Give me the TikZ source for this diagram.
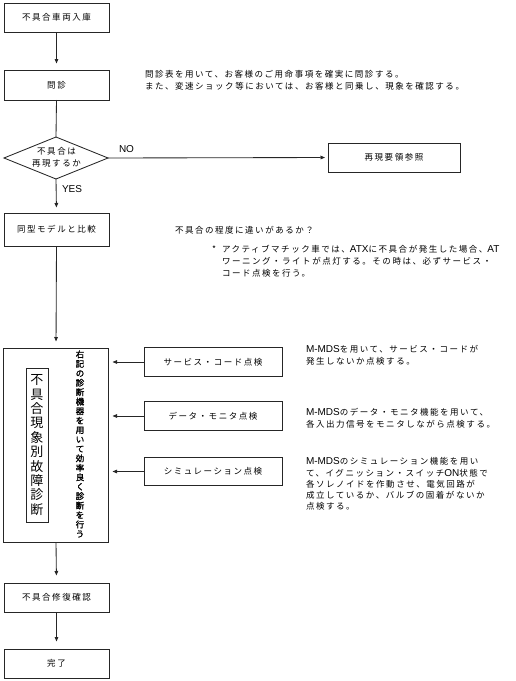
\documentclass[tikz,border=0pt]{standalone}
\usepackage{fontspec}
\setmainfont{Noto Sans CJK JP}[LetterSpace=18]
\newfontfamily\jpv{Noto Sans CJK JP}
\newfontfamily\jpvb{Noto Sans CJK JP}[FakeBold=1.3]
\newfontfamily\latf{Liberation Sans}
\newcommand\latn[1]{{\latf\fontsize{10}{11}\selectfont #1}}
\usetikzlibrary{arrows.meta,shapes.geometric}
\begin{document}
\begin{tikzpicture}[x=1pt,y=-1pt,
  every node/.style={inner sep=0pt, outer sep=0pt},
  jp/.style={font=\fontsize{8.5}{11}\selectfont},
  box/.style={draw=black!85, line width=0.85pt, rectangle, jp},
  mainbox/.style={box, minimum width=105pt, minimum height=29pt},
  svcbox/.style={box, minimum width=138pt, minimum height=28.5pt},
  desc/.style={jp, align=left, anchor=north west, font=\fontsize{8.5}{11.2}\selectfont},
  conn/.style={draw=black!85, line width=0.85pt},
  arr/.style={conn, -{Triangle[length=4.5pt,width=3.6pt]}},
]
\useasboundingbox (0,0) rectangle (516,681);

% main column
\node[mainbox] (b1) at (56.5,17.5) {不具合車両入庫};
\node[mainbox, minimum height=30pt] (b2) at (56.5,85) {問診};
\node[draw=black!85, line width=0.85pt, diamond, minimum width=104pt, minimum height=42pt] (d) at (56,158) {};
\node[jp, align=center, font=\fontsize{8.5}{12}\selectfont] (dt) at (56.5,157) {不具合は\\再現するか};
\node[box, minimum width=132pt, minimum height=29pt] (rep) at (394,157.5) {再現要領参照};
\node[mainbox, minimum height=33pt] (b3) at (56.5,229.5) {同型モデルと比較};
\node[box, minimum width=105pt, minimum height=194pt] (big) at (56,445) {};
\node[draw=black!85, line width=0.85pt, minimum width=22pt, minimum height=154pt, align=center,
      font=\jpv\fontsize{13}{14.4}\selectfont] (inner) at (37,445)
  {不\\具\\合\\現\\象\\別\\故\\障\\診\\断};
\node[align=center, font=\jpvb\fontsize{8.5}{9.45}\selectfont] (vt) at (80,444)
  {右\\記\\の\\診\\断\\機\\器\\を\\用\\い\\て\\効\\率\\良\\く\\診\\断\\を\\行\\う};
\node[mainbox] (b4) at (56.5,597.5) {不具合修復確認};
\node[mainbox] (b5) at (56.5,663.5) {完了};

% service boxes
\node[svcbox] (s1) at (213,362) {サービス・コード点検};
\node[svcbox] (s2) at (213,416) {データ・モニタ点検};
\node[svcbox] (s3) at (213,471.5) {シミュレーション点検};

% labels
\node[font=\latf\fontsize{10}{11}\selectfont] (no) at (126.5,149) {NO};
\node[font=\latf\fontsize{10}{11}\selectfont, anchor=west] (yes) at (62,189) {YES};

% descriptions
\node[desc] (t1) at (145,70.7) {問診表を用いて、お客様のご用命事項を確実に問診する。\\また、変速ショック等においては、お客様と同乗し、現象を確認する。};
\node[desc] (t2) at (175,226.7) {不具合の程度に違いがあるか？};
\node[jp, anchor=north west] (ast) at (212,245.5) {*};
\node[desc, font=\fontsize{8.5}{11.9}\selectfont] (t3) at (222,245.7) {アクティブマチック車では、\latn{ATX}に不具合が発生した場合、\latn{AT}\\ワーニング・ライトが点灯する。その時は、必ずサービス・\\コード点検を行う。};
\node[desc] (t4) at (306,345.7) {\latn{M-MDS}を用いて、サービス・コードが\\発生しないか点検する。};
\node[desc] (t5) at (306,408.7) {\latn{M-MDS}のデータ・モニタ機能を用いて、\\各入出力信号をモニタしながら点検する。};
\node[desc] (t6) at (306,457.7) {\latn{M-MDS}のシミュレーション機能を用い\\て、イグニッション・スイッチ\latn{ON}状態で\\各ソレノイドを作動させ、電気回路が\\成立しているか、バルブの固着がないか\\点検する。};

% connectors
\draw[arr, shorten >=6.5pt] (b1.south) -- (b2.north);
\draw[conn] (b2.south) -- (d.north);
\draw[arr, shorten >=3pt] (d.east) -- (rep.west);
\draw[arr, shorten >=5.5pt] (d.south) -- (b3.north);
\draw[arr, shorten >=6.5pt] (b3.south) -- (big.north);
\draw[arr, shorten >=4pt] (s1.west) -- (s1.west -| big.east);
\draw[arr, shorten >=4pt] (s2.west) -- (s2.west -| big.east);
\draw[arr, shorten >=4pt] (s3.west) -- (s3.west -| big.east);
\draw[arr, shorten >=7.5pt] (big.south) -- (b4.north);
\draw[arr, shorten >=7.5pt] (b4.south) -- (b5.north);
\end{tikzpicture}
\end{document}
